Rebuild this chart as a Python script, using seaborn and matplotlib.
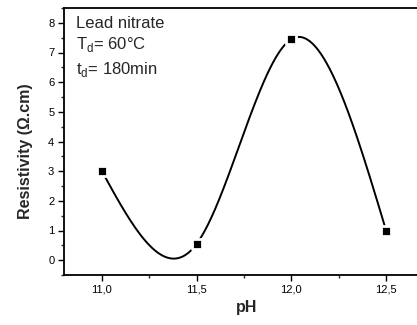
import numpy as np
import matplotlib
matplotlib.use("Agg")
import matplotlib.pyplot as plt
import seaborn as sns

ph = [11.0, 11.5, 12.0, 12.5]
resistivity = [3.0, 0.55, 7.45, 1.0]
x_ticks = [11.0, 11.5, 12.0, 12.5]
x_tick_labels = ["11,0", "11,5", "12,0", "12,5"]
y_ticks = [0, 1, 2, 3, 4, 5, 6, 7, 8]
annotation_lines = ["Lead nitrate", "T$_\\mathregular{d}$= 60°C", "t$_\\mathregular{d}$= 180min"]


def natural_spline(xk, yk, n=400):
    xk = np.asarray(xk, float)
    yk = np.asarray(yk, float)
    m = len(xk)
    h = np.diff(xk)
    A = np.zeros((m, m))
    b = np.zeros(m)
    A[0, 0] = 1
    A[-1, -1] = 1
    for i in range(1, m - 1):
        A[i, i - 1] = h[i - 1]
        A[i, i] = 2 * (h[i - 1] + h[i])
        A[i, i + 1] = h[i]
        b[i] = 6 * ((yk[i + 1] - yk[i]) / h[i] - (yk[i] - yk[i - 1]) / h[i - 1])
    M = np.linalg.solve(A, b)
    xs = np.linspace(xk[0], xk[-1], n)
    idx = np.clip(np.searchsorted(xk, xs) - 1, 0, m - 2)
    x0, x1 = xk[idx], xk[idx + 1]
    hh = x1 - x0
    ys = (M[idx] * (x1 - xs) ** 3 / (6 * hh) + M[idx + 1] * (xs - x0) ** 3 / (6 * hh)
          + (yk[idx] / hh - M[idx] * hh / 6) * (x1 - xs)
          + (yk[idx + 1] / hh - M[idx + 1] * hh / 6) * (xs - x0))
    return xs, ys


sns.set_style("ticks")
plt.rcParams["font.family"] = ["Liberation Sans", "DejaVu Sans"]
plt.rcParams["mathtext.fontset"] = "custom"
plt.rcParams["mathtext.rm"] = "Liberation Sans"

fig = plt.figure(figsize=(4.17, 3.25), dpi=100)
ax = fig.add_axes([64 / 417, 1 - 275 / 325, (424 - 64) / 417, (275 - 8) / 325])

xs, ys = natural_spline(ph, resistivity)
sns.lineplot(x=xs, y=ys, sort=False, color="black", linewidth=1.4, ax=ax, zorder=2)
sns.scatterplot(x=ph, y=resistivity, marker="s", s=48, color="black",
                edgecolor="white", linewidth=2.0, ax=ax, zorder=3)

ax.set_xlim(10.8, 12.7)
ax.set_ylim(-0.5, 8.5)
ax.set_xticks(x_ticks)
ax.set_xticklabels(x_tick_labels)
ax.set_yticks(y_ticks)
ax.set_xticks([11.25, 11.75, 12.25], minor=True)
ax.set_yticks(np.arange(-0.5, 8.6, 1.0), minor=True)
ax.tick_params(which="major", direction="out", length=4, width=1, labelsize=8,
               colors="black", pad=3)
ax.tick_params(which="minor", direction="out", length=2.5, width=1)
for s in ["left", "bottom", "top"]:
    ax.spines[s].set_linewidth(1.3)
    ax.spines[s].set_color("black")
ax.spines["right"].set_visible(False)

ax.set_xlabel("pH", fontsize=11.5, fontweight="bold")
ax.set_ylabel("Resistivity (Ω.cm)", fontsize=11.5, fontweight="bold")
ax.yaxis.set_label_coords(-0.086, 0.4625)
ax.xaxis.set_label_coords(0.508, -0.094)

baselines = [28, 49, 74]
for line, yb in zip(annotation_lines, baselines):
    fig.text(76 / 417, 1 - yb / 325, line, fontsize=12, va="baseline", ha="left")

fig.savefig("out.png", dpi=100)
